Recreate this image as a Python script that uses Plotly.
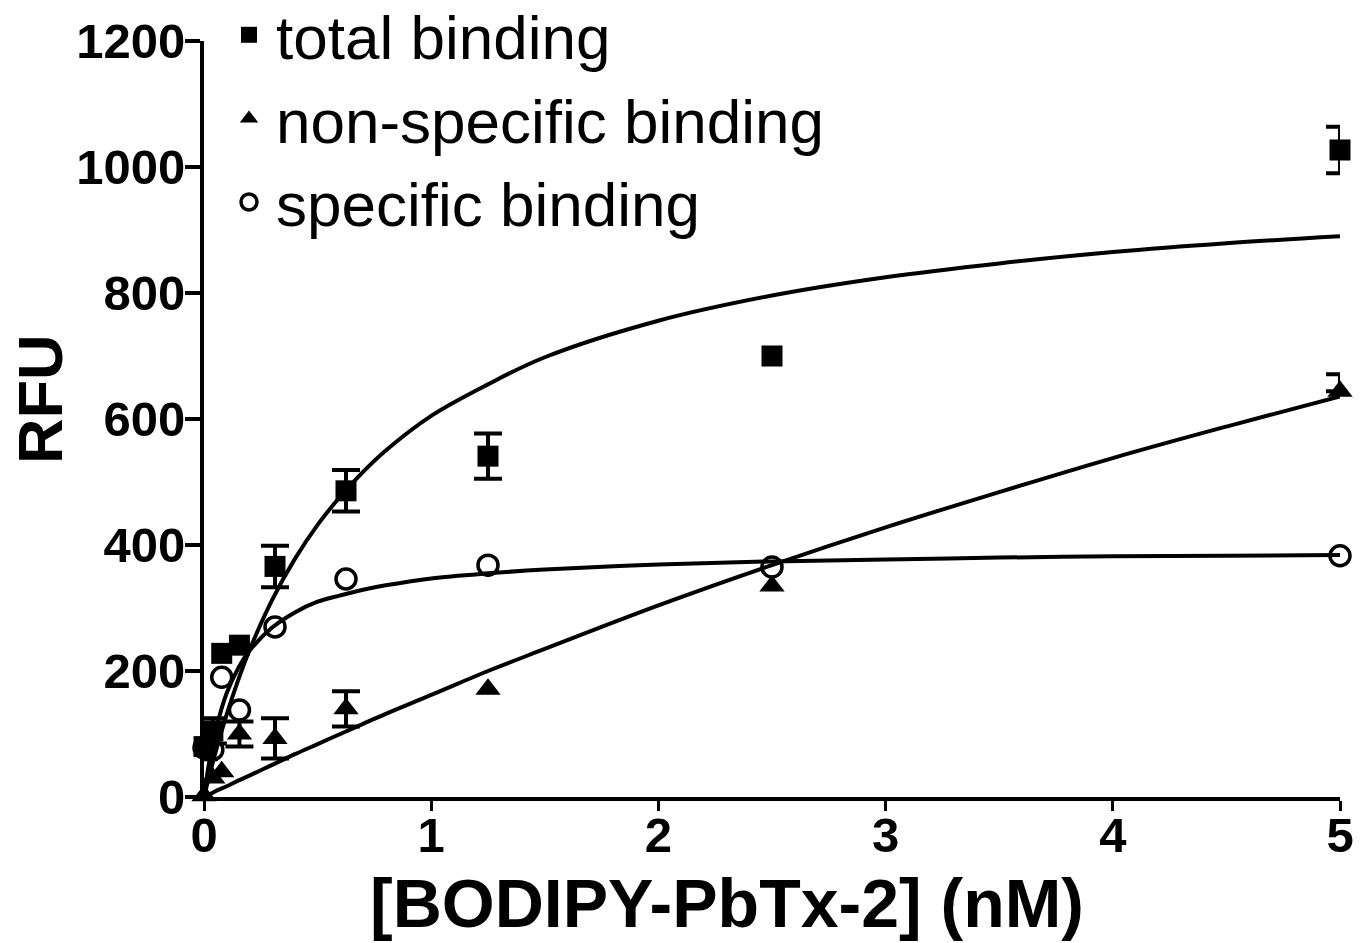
import plotly.graph_objects as go

# ---- data ----
conc = [0, 0.039, 0.078, 0.156, 0.3125, 0.625, 1.25, 2.5, 5]
total = [80, 105, 228, 241, 366, 486, 541, 700, 1027]
total_err = [20, 20, 0, 0, 33, 33, 36, 0, 37]
nonspec = [2, 30, 40, 100, 93, 140, 171, 335, 644]
nonspec_err_up = [0, 0, 0, 20, 32, 28, 0, 0, 27]
nonspec_err_down = [0, 0, 0, 20, 32, 28, 0, 0, 0]
specific = [78, 75, 190, 138, 270, 346, 368, 365, 383]

# fitted curves
fit_x = [0, 0.025, 0.05, 0.1, 0.15, 0.2, 0.3, 0.4, 0.5, 0.6, 0.7, 0.8, 1.0, 1.25, 1.5, 2.0, 2.5, 3.0, 3.5, 4.0, 4.5, 5.0]
total_fit = [0, 36, 70, 131, 185, 233, 313, 378, 432, 477, 516, 550, 605, 655, 698, 756, 796, 825, 847, 865, 879, 890]
spec_fit = [0, 60, 104, 165, 204, 232, 269, 293, 310, 320, 329, 336, 347, 355, 361, 369, 374, 377, 380, 382, 383, 384]
ns_fit = [0, 4, 9, 17, 26, 34, 51, 68, 84, 100, 116, 132, 162, 200, 235, 304, 368, 428, 484, 538, 588, 636]

x_ticks = [0, 1, 2, 3, 4, 5]
y_ticks = [0, 200, 400, 600, 800, 1000, 1200]

names = ["total binding", "non-specific binding", "specific binding"]

FONT = "Liberation Sans, Arial, sans-serif"
W, H = 1369, 943
L, R, T, B = 204, 29, 41, 146
pw, ph = W - L - R, H - T - B

fig = go.Figure()

for yv in (total_fit, ns_fit, spec_fit):
    fig.add_trace(go.Scatter(x=fit_x, y=yv, mode="lines", showlegend=False,
                             line=dict(color="black", width=4, shape="spline", smoothing=1.0),
                             hoverinfo="skip", cliponaxis=False))

err_style = dict(type="data", color="black", thickness=4, width=14)


def add_errors(xs, ys, up, down):
    idx = [i for i in range(len(xs)) if up[i] or down[i]]
    fig.add_trace(go.Scatter(
        x=[xs[i] for i in idx], y=[ys[i] for i in idx], mode="markers",
        marker=dict(size=1, opacity=0), showlegend=False, hoverinfo="skip", cliponaxis=False,
        error_y=dict(array=[up[i] for i in idx], arrayminus=[down[i] for i in idx],
                     symmetric=False, **err_style)))


add_errors(conc, total, total_err, total_err)
add_errors(conc, nonspec, nonspec_err_up, nonspec_err_down)

fig.add_trace(go.Scatter(x=conc, y=total, mode="markers", name=names[0],
                         marker=dict(symbol="square", size=21, color="black"), cliponaxis=False))
fig.add_trace(go.Scatter(x=conc, y=nonspec, mode="markers", name=names[1],
                         marker=dict(symbol="triangle-up", size=22, color="black"), cliponaxis=False))
fig.add_trace(go.Scatter(x=conc, y=specific, mode="markers", name=names[2],
                         marker=dict(symbol="circle-open", size=20, color="black",
                                     line=dict(color="black", width=3.5)),
                         cliponaxis=False))


def px_x(p):
    return (p - L) / pw


def px_y(p):
    return (H - B - p) / ph


fig.update_layout(
    width=W, height=H,
    margin=dict(l=L, r=R, t=T, b=B, autoexpand=False),
    paper_bgcolor="white", plot_bgcolor="white",
    font=dict(family=FONT, color="black"),
    showlegend=True,
    legend=dict(x=px_x(222), y=px_y(-12), xanchor="left", yanchor="top",
                font=dict(family=FONT, size=62, color="black"),
                bgcolor="rgba(0,0,0,0)", tracegroupgap=0, itemwidth=44),
    xaxis=dict(range=[0, 5], tickvals=x_ticks, ticktext=[str(v) for v in x_ticks],
               showgrid=False, zeroline=False, showline=True, linecolor="black", linewidth=4,
               ticks="outside", ticklen=10, tickwidth=3, tickcolor="black",
               ticklabelstandoff=-18,
               tickfont=dict(family=FONT, size=49, color="black", weight="bold")),
    yaxis=dict(range=[0, 1200], tickvals=y_ticks, ticktext=[str(v) for v in y_ticks],
               showgrid=False, zeroline=False, showline=True, linecolor="black", linewidth=4,
               ticks="outside", ticklen=15, tickwidth=4, tickcolor="black",
               ticklabelstandoff=-10,
               tickfont=dict(family=FONT, size=49, color="black", weight="bold")),
    annotations=[
        dict(text="RFU", xref="paper", yref="paper", x=px_x(40), y=px_y(400),
             xanchor="center", yanchor="middle",
             showarrow=False, textangle=-90,
             font=dict(family=FONT, size=63, color="black", weight="bold")),
        dict(text="[BODIPY-PbTx-2] (nM)", xref="paper", yref="paper", x=px_x(727), y=px_y(903),
             xanchor="center", yanchor="middle",
             showarrow=False,
             font=dict(family=FONT, size=68, color="black", weight="bold")),
    ],
)

fig.write_html("out.html", config={"displayModeBar": False},
               post_script="document.body.style.margin='0';document.body.style.overflow='hidden';")
